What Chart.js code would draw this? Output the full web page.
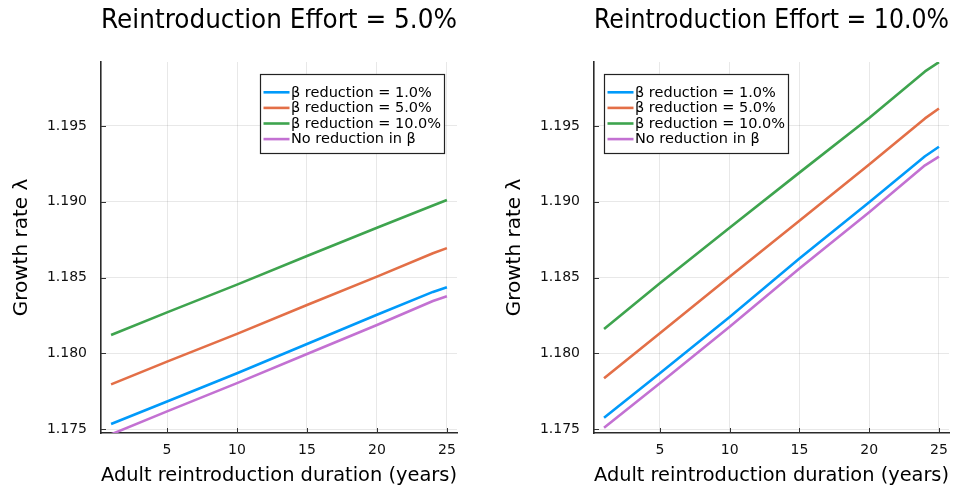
<!DOCTYPE html>
<html>
<head>
<meta charset="utf-8">
<script src="https://cdn.jsdelivr.net/npm/chart.js@4/dist/chart.umd.min.js"></script>
<style>
html,body{margin:0;padding:0;background:#fff;width:963px;height:489px;overflow:hidden}
canvas{position:absolute;top:0}
</style>
</head>
<body>
<canvas id="c1" width="480" height="489" style="left:0"></canvas>
<canvas id="c2" width="483" height="489" style="left:480px"></canvas>
<script>
// ---- data ----
const durations = [1, 5, 10, 15, 20, 24, 25];
const seriesLabels = ['β reduction = 1.0%', 'β reduction = 5.0%', 'β reduction = 10.0%', 'No reduction in β'];
const seriesColors = ['#009AFA', '#E36F47', '#3EA44E', '#C371D2'];
const panelTitles = ['Reintroduction Effort = 5.0%', 'Reintroduction Effort = 10.0%'];
const xTickValues = [5, 10, 15, 20, 25];
const yTickValues = [1.175, 1.180, 1.185, 1.190, 1.195];

// Reintroduction effort 5%
const effort5_red1  = [1.17533, 1.17682, 1.17868, 1.18061, 1.18254, 1.18405, 1.18436];
const effort5_red5  = [1.17795, 1.17945, 1.18128, 1.18319, 1.18506, 1.18660, 1.18694];
const effort5_red10 = [1.18121, 1.18270, 1.18453, 1.18642, 1.18828, 1.18975, 1.19011];
const effort5_none  = [1.17465, 1.17617, 1.17803, 1.17995, 1.18187, 1.18345, 1.18376];

// Reintroduction effort 10%
const effort10_red1  = [1.17575, 1.17868, 1.18240, 1.18625, 1.18996, 1.19300, 1.19363];
const effort10_red5  = [1.17835, 1.18132, 1.18505, 1.18875, 1.19245, 1.19550, 1.19615];
const effort10_red10 = [1.18161, 1.18462, 1.18828, 1.19192, 1.19553, 1.19860, 1.19921];
const effort10_none  = [1.17509, 1.17802, 1.18175, 1.18560, 1.18931, 1.19240, 1.19297];

const FONT = '"DejaVu Sans", sans-serif';

const juliaDecor = {
  id: 'juliaDecor',
  afterDraw(chart, args, opts) {
    const ctx = chart.ctx, area = chart.chartArea;
    const xs = chart.scales.x, ys = chart.scales.y;
    ctx.save();
    // inward tick marks
    ctx.strokeStyle = '#333';
    ctx.lineWidth = 1;
    xs.ticks.forEach(t => {
      const p = Math.round(xs.getPixelForValue(t.value)) + 0.5;
      ctx.beginPath(); ctx.moveTo(p, area.bottom); ctx.lineTo(p, area.bottom - 5); ctx.stroke();
    });
    ys.ticks.forEach(t => {
      const p = Math.round(ys.getPixelForValue(t.value)) + 0.5;
      ctx.beginPath(); ctx.moveTo(area.left, p); ctx.lineTo(area.left + 5, p); ctx.stroke();
    });
    // legend box
    ctx.font = '14.5px ' + FONT;
    const sets = chart.data.datasets;
    const tw = Math.max(...sets.map(d => ctx.measureText(d.label).width));
    const w = Math.round(3 + 26 + 1.5 + tw + 3.5);
    const h = 79;
    const bx = Math.round(opts.side === 'right' ? area.right - 13.5 - w : area.left + 10) + 0.5;
    const by = Math.round(area.top + 12) + 0.5;
    ctx.fillStyle = '#fff';
    ctx.fillRect(bx, by, w, h);
    ctx.strokeStyle = '#222';
    ctx.lineWidth = 1.2;
    ctx.strokeRect(bx, by, w, h);
    ctx.textBaseline = 'middle';
    ctx.textAlign = 'left';
    sets.forEach((d, i) => {
      const cy = by + 17.8 + i * 15.6;
      ctx.strokeStyle = d.borderColor;
      ctx.lineWidth = 2.6;
      ctx.beginPath(); ctx.moveTo(bx + 3, cy); ctx.lineTo(bx + 29, cy); ctx.stroke();
      ctx.fillStyle = '#000';
      ctx.fillText(d.label, bx + 30.5, cy + 0.5);
    });
    ctx.restore();
  }
};

function makePanel(canvasId, title, seriesList, yAxisWidth, yTitlePad, rightPad, legendSide) {
  const datasets = seriesList.map((vals, i) => ({
    label: seriesLabels[i],
    data: durations.map((x, j) => ({ x: x, y: vals[j] })),
    borderColor: seriesColors[i],
    backgroundColor: seriesColors[i],
    borderWidth: 2.6,
    pointRadius: 0,
    tension: 0,
    fill: false,
    borderJoinStyle: 'round',
    borderCapStyle: 'butt'
  }));
  return new Chart(document.getElementById(canvasId), {
    type: 'line',
    data: { datasets },
    plugins: [juliaDecor],
    options: {
      responsive: false,
      animation: false,
      devicePixelRatio: 1,
      layout: { padding: { left: 0, right: rightPad, top: 0, bottom: 0 } },
      plugins: {
        legend: { display: false },
        tooltip: { enabled: false },
        title: {
          display: true, text: title, fullSize: false, color: '#000',
          font: { family: FONT, size: 26.5, weight: 'normal' },
          padding: { top: 5, bottom: 25.2 }
        },
        juliaDecor: { side: legendSide }
      },
      scales: {
        x: {
          type: 'linear', min: 0.28, max: 25.72,
          afterBuildTicks: s => { s.ticks = xTickValues.map(v => ({ value: v })); },
          afterFit: s => { s.height = 56; },
          ticks: { font: { family: FONT, size: 14 }, color: '#111', padding: 9, maxRotation: 0,
                   callback: v => String(v) },
          grid: { color: 'rgba(0,0,0,0.09)', lineWidth: 1, drawTicks: false },
          border: { display: true, color: '#2a2a2a', width: 1.6 },
          title: { display: true, text: 'Adult reintroduction duration (years)', color: '#000',
                   font: { family: FONT, size: 20 }, padding: { top: 0, bottom: 1 } }
        },
        y: {
          type: 'linear', min: 1.17474, max: 1.19922,
          afterBuildTicks: s => { s.ticks = yTickValues.map(v => ({ value: v })); },
          afterFit: s => { s.width = yAxisWidth; },
          ticks: { font: { family: FONT, size: 14 }, color: '#111', padding: 14,
                   callback: v => Number(v).toFixed(3) },
          grid: { color: 'rgba(0,0,0,0.09)', lineWidth: 1, drawTicks: false },
          border: { display: true, color: '#2a2a2a', width: 1.6 },
          title: { display: true, text: 'Growth rate λ', color: '#000',
                   font: { family: FONT, size: 20 }, padding: { top: yTitlePad, bottom: 0 } }
        }
      }
    }
  });
}

makePanel('c1', panelTitles[0], [effort5_red1, effort5_red5, effort5_red10, effort5_none], 101, 10, 23, 'right');
makePanel('c2', panelTitles[1], [effort10_red1, effort10_red5, effort10_red10, effort10_none], 114, 22.3, 14, 'left');
</script>
</body>
</html>
